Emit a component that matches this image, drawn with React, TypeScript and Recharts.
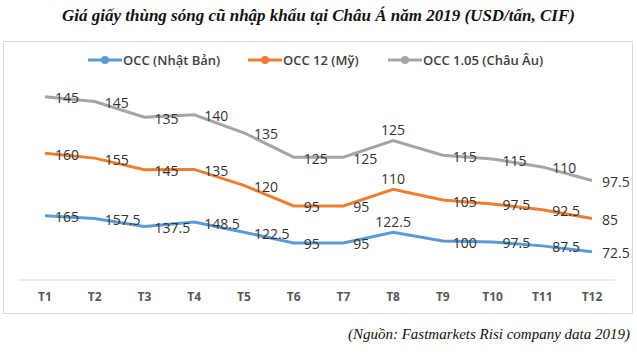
import { AreaChart, Area, XAxis, YAxis } from 'recharts';

const months = ['T1', 'T2', 'T3', 'T4', 'T5', 'T6', 'T7', 'T8', 'T9', 'T10', 'T11', 'T12'];
const occJapan = [165, 157.5, 137.5, 148.5, 122.5, 95, 95, 122.5, 100, 97.5, 87.5, 72.5];
const occUS = [160, 155, 145, 135, 120, 95, 95, 110, 105, 97.5, 92.5, 85];
const occEU = [145, 145, 135, 140, 135, 125, 125, 125, 115, 115, 110, 97.5];

const series = [
  { key: 'jp', name: 'OCC (Nhật Bản)', color: '#5B9BD5', values: occJapan },
  { key: 'us', name: 'OCC 12 (Mỹ)', color: '#ED7D31', values: occUS },
  { key: 'eu', name: 'OCC 1.05 (Châu Âu)', color: '#A5A5A5', values: occEU },
];

const data = months.map((m, i) => ({
  month: m,
  jp: occJapan[i],
  us: occUS[i],
  eu: occEU[i],
}));

const FONT = '"Open Sans", sans-serif';

// labels sit to the right of the point, except T8 which goes above
const makeLabel = (values: number[]) => (props: any) => {
  const { x, y, index } = props;
  const above = index === 7;
  return (
    <text
      key={index}
      x={above ? x : x + 10}
      y={above ? y - 11 : y + 1}
      textAnchor={above ? 'middle' : 'start'}
      dominantBaseline="central"
      fontFamily={FONT}
      fontSize={14}
      fill="#333"
    >
      {values[index]}
    </text>
  );
};

const legendPos = [88, 248, 388];

export default function App() {
  return (
    <div style={{ position: 'absolute', left: 0, top: 0, width: 637, height: 355, background: '#fff' }}>
      <div
        style={{
          position: 'absolute', left: 0, top: 6, width: 637, textAlign: 'center',
          fontFamily: '"Liberation Serif", serif', fontStyle: 'italic', fontWeight: 'bold', fontSize: 17, color: '#111',
        }}
      >
        Giá giấy thùng sóng cũ nhập khẩu tại Châu Á năm 2019 (USD/tấn, CIF)
      </div>
      <div
        style={{
          position: 'absolute', left: 3, top: 41, width: 628, height: 271,
          border: '1px solid #d9d9d9',
        }}
      />
      {series.map((s, i) => (
        <div
          key={s.key}
          style={{ position: 'absolute', left: legendPos[i], top: 51, height: 18, display: 'flex', alignItems: 'center' }}
        >
          <svg width={34} height={10}>
            <line x1={0} y1={5} x2={34} y2={5} stroke={s.color} strokeWidth={3} />
            <circle cx={17} cy={5} r={4} fill={s.color} />
          </svg>
          <span style={{ fontFamily: FONT, fontSize: 13, fontWeight: 600, color: '#404040', marginLeft: 1 }}>{s.name}</span>
        </div>
      ))}
      <div style={{ position: 'absolute', left: 0, top: 0 }}>
        <AreaChart width={637} height={355} data={data} margin={{ top: 85, right: 22, bottom: 45, left: 18 }}>
          <XAxis
            dataKey="month"
            padding={{ left: 27, right: 23 }}
            height={30}
            axisLine={{ stroke: '#d9d9d9' }}
            tickLine={false}
            tickMargin={6}
            tick={{ fill: '#595959', fontSize: 12, fontFamily: FONT, fontWeight: 700 }}
            interval={0}
          />
          <YAxis hide domain={[0, 500]} />
          {series.map((s) => (
            <Area
              key={s.key}
              type="linear"
              dataKey={s.key}
              stackId="a"
              stroke={s.color}
              strokeWidth={3}
              fill="none"
              fillOpacity={0}
              dot={{ r: 4, fill: s.color, stroke: s.color, strokeWidth: 0 }}
              activeDot={false}
              label={makeLabel(s.values)}
              isAnimationActive={false}
            />
          ))}
        </AreaChart>
      </div>
      <div
        style={{
          position: 'absolute', right: 7, top: 326,
          fontFamily: '"Liberation Serif", serif', fontStyle: 'italic', fontSize: 15, color: '#111',
        }}
      >
        (Nguồn: Fastmarkets Risi company data 2019)
      </div>
    </div>
  );
}
